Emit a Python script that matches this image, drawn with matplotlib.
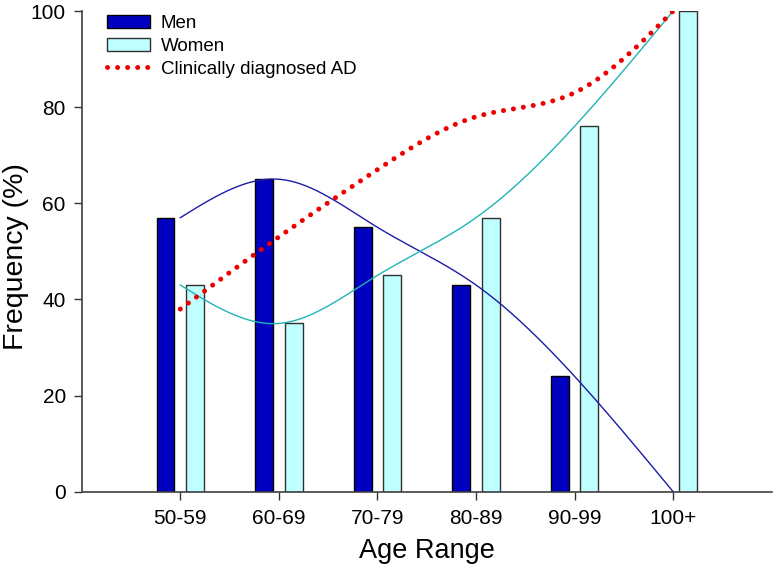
import matplotlib.pyplot as plt
import numpy as np

plt.rcParams['font.family'] = ['Liberation Sans', 'DejaVu Sans']

labels = ['50-59', '60-69', '70-79', '80-89', '90-99', '100+']
men = [57, 65, 55, 43, 24, 0]
women = [43, 35, 45, 57, 76, 100]
ad = [38, 53, 67, 78, 83, 100]


def natural_spline(xs, ys, n=300):
    # plain natural cubic spline, just for drawing the smooth lines
    xs = np.asarray(xs, float)
    ys = np.asarray(ys, float)
    k = len(xs)
    h = np.diff(xs)
    A = np.zeros((k, k))
    b = np.zeros(k)
    A[0, 0] = A[-1, -1] = 1
    for i in range(1, k - 1):
        A[i, i - 1] = h[i - 1]
        A[i, i] = 2 * (h[i - 1] + h[i])
        A[i, i + 1] = h[i]
        b[i] = 3 * ((ys[i + 1] - ys[i]) / h[i] - (ys[i] - ys[i - 1]) / h[i - 1])
    c = np.linalg.solve(A, b)
    xx = np.linspace(xs[0], xs[-1], n)
    j = np.clip(np.searchsorted(xs, xx) - 1, 0, k - 2)
    dx = xx - xs[j]
    bb = (ys[j + 1] - ys[j]) / h[j] - h[j] * (2 * c[j] + c[j + 1]) / 3
    dd = (c[j + 1] - c[j]) / (3 * h[j])
    return xx, ys[j] + bb * dx + c[j] * dx ** 2 + dd * dx ** 3


x = np.arange(len(labels))
width = 0.18
off = 0.15

fig = plt.figure(figsize=(7.74, 5.7), dpi=100)
ax = fig.add_axes([0.1056, 0.1374, 0.8914, 0.8433])

b1 = ax.bar(x - off, men, width, color='#0000c0', edgecolor='black', linewidth=1,
            label='Men', zorder=2)
b2 = ax.bar(x + off, women, width, color='#c0ffff', edgecolor='#303030', linewidth=1,
            label='Women', zorder=2)

mx, my = natural_spline(x, men)
ax.plot(mx, my, color='#1c1ca8', lw=1.0, zorder=3)
wx, wy = natural_spline(x, women)
ax.plot(wx, wy, color='#20b4b4', lw=1.0, zorder=3)
adx, ady = natural_spline(x, ad)
l1, = ax.plot(adx, ady, color='#ee0000', lw=3.6, linestyle=(0, (0.01, 2.0)),
              dash_capstyle='round', label='Clinically diagnosed AD', zorder=4)

ax.set_xlim(-1, 6)
ax.set_ylim(0, 100)
ax.set_xticks(x)
ax.set_xticklabels(labels)
ax.set_yticks([0, 20, 40, 60, 80, 100])
ax.tick_params(direction='out', length=5.5, width=1, labelsize=15, color='#333333')
ax.tick_params(axis='x', pad=7)
ax.tick_params(axis='y', pad=6)

for s in ['top', 'right']:
    ax.spines[s].set_visible(False)
for s in ['left', 'bottom']:
    ax.spines[s].set_color('#404040')
    ax.spines[s].set_linewidth(1.2)

ax.set_xlabel('Age Range', fontsize=19.5)
ax.xaxis.set_label_coords(0.5, -0.096)
ax.set_ylabel('Frequency (%)', fontsize=20.5)
ax.yaxis.set_label_coords(-0.077, 0.489)

ax.legend([b1, b2, l1], ['Men', 'Women', 'Clinically diagnosed AD'],
          loc='upper left', bbox_to_anchor=(0.036, 0.991), frameon=False,
          fontsize=13.5, handlelength=2.3, handleheight=0.7, handletextpad=0.6,
          labelspacing=0.3, borderpad=0, borderaxespad=0)

plt.savefig('out.png', dpi=100)
